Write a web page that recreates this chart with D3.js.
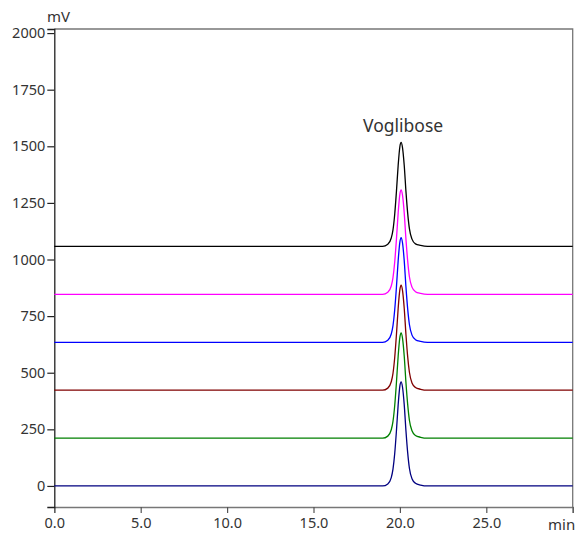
<!DOCTYPE html>
<html>
<head>
<meta charset="utf-8">
<script src="https://cdn.jsdelivr.net/npm/d3@7"></script>
<style>
  body { margin: 0; background: #fff; }
  text { font-family: "Noto Sans", "Open Sans", sans-serif; fill: #333; }
</style>
</head>
<body>
<svg id="chart" width="576" height="534"></svg>
<script>
// retention times (min), shared by every trace
var times = [0, 19.0, 19.3, 19.5, 19.6, 19.7, 19.8, 19.9, 20.0, 20.07, 20.15, 20.25, 20.35, 20.45, 20.55, 20.7, 20.9, 21.2, 21.6, 30];

// signal (mV), one list per injection, bottom to top
var navyTrace = [0, 0, 9, 37, 74, 143, 244, 359, 442, 460, 437, 359, 244, 147, 78, 32, 12, 4, 0, 0];
var greenTrace = [211, 211, 220, 248, 285, 355, 457, 574, 657, 676, 653, 574, 457, 360, 290, 244, 223, 215, 211, 211];
var darkRedTrace = [423, 423, 432, 460, 497, 567, 669, 785, 868, 887, 864, 785, 669, 571, 502, 455, 435, 427, 423, 423];
var blueTrace = [634, 634, 643, 671, 708, 778, 879, 995, 1078, 1097, 1074, 995, 879, 782, 713, 666, 646, 638, 634, 634];
var magentaTrace = [846, 846, 855, 883, 920, 989, 1090, 1206, 1289, 1307, 1284, 1206, 1090, 994, 924, 878, 858, 850, 846, 846];
var blackTrace = [1058, 1058, 1067, 1095, 1131, 1200, 1301, 1416, 1499, 1517, 1494, 1416, 1301, 1205, 1136, 1090, 1069, 1062, 1058, 1058];

var traceColours = ["#000080", "#008000", "#800000", "#0000ff", "#ff00ff", "#000000"];
var traces = [navyTrace, greenTrace, darkRedTrace, blueTrace, magentaTrace, blackTrace];

// tick labels
var xTicks = [0, 5, 10, 15, 20, 25];
var yTicks = [0, 250, 500, 750, 1000, 1250, 1500, 1750, 2000];

var peakName = "Voglibose";
var peakTime = 20.07;
var peakTop = 1517;

var svg = d3.select("#chart");

var plotLeft = 54.3, plotRight = 572.7, plotTop = 29, plotBottom = 507;

var x = d3.scaleLinear().domain([0, 30]).range([plotLeft, plotRight]);
var y = d3.scaleLinear().domain([-93, 2018]).range([plotBottom, plotTop]);

// frame top and right
svg.append("path")
    .attr("d", "M" + plotLeft + "," + plotTop + "H" + plotRight + "V" + plotBottom)
    .attr("fill", "none")
    .attr("stroke", "#777")
    .attr("stroke-width", 1.3);

// x axis
var xAxis = svg.append("g")
    .attr("transform", "translate(0," + plotBottom + ")")
    .call(d3.axisBottom(x).tickValues(xTicks.concat([30])).tickSizeOuter(0).tickSize(6)
        .tickFormat(function(d) { return d == 30 ? "" : d.toFixed(1); }));
xAxis.select(".domain").attr("stroke", "#777").attr("stroke-width", 1.3);
xAxis.selectAll(".tick line").attr("stroke", "#555").attr("stroke-width", 1.2);
xAxis.selectAll(".tick text").attr("y", 11).style("font-size", "14.5px").attr("fill", "#333");

svg.append("text")
    .attr("x", 548)
    .attr("y", 530)
    .style("font-size", "15px")
    .text("min");

// y axis
var yAxis = svg.append("g")
    .attr("transform", "translate(" + plotLeft + ",0)")
    .call(d3.axisLeft(y).tickValues(yTicks).tickSizeOuter(0).tickSize(7).tickFormat(d3.format("d")));
yAxis.select(".domain").attr("stroke", "#222").attr("stroke-width", 1.3);
yAxis.selectAll(".tick line").attr("stroke", "#222").attr("stroke-width", 1.2);
yAxis.selectAll(".tick text").attr("x", -9).style("font-size", "14.5px").attr("fill", "#333");

svg.append("text")
    .attr("x", 47)
    .attr("y", 22)
    .style("font-size", "15px")
    .text("mV");

// traces
var line = d3.line()
    .x(function(d, i) { return x(times[i]); })
    .y(function(d) { return y(d); })
    .curve(d3.curveMonotoneX);

svg.append("g").selectAll("path")
    .data(traces)
    .enter().append("path")
    .attr("d", line)
    .attr("fill", "none")
    .attr("stroke", function(d, i) { return traceColours[i]; })
    .attr("stroke-width", 1.3);

// peak label
svg.append("text")
    .attr("x", x(peakTime) + 2)
    .attr("y", y(peakTop) - 10)
    .attr("text-anchor", "middle")
    .style("font-size", "17.5px")
    .text(peakName);
</script>
</body>
</html>
